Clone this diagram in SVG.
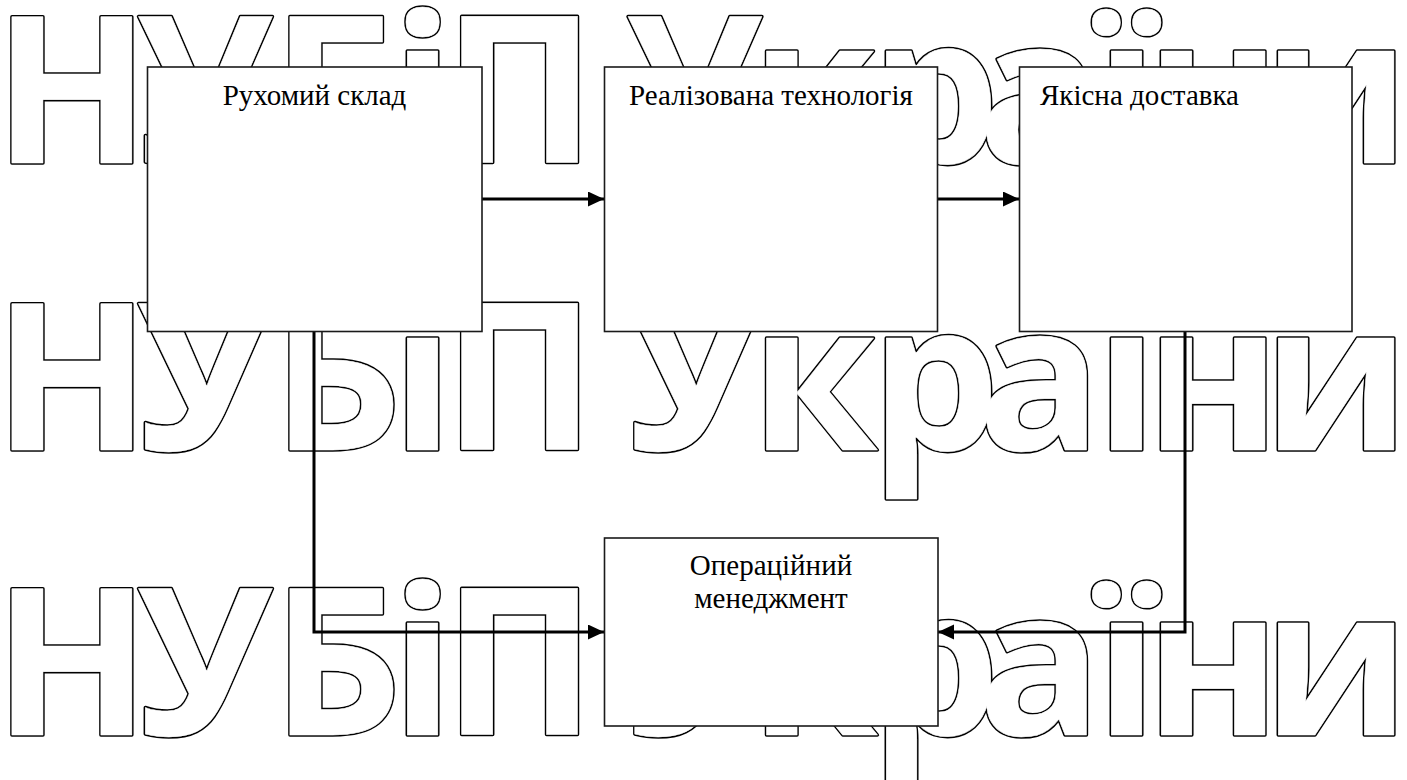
<svg xmlns="http://www.w3.org/2000/svg" width="1407" height="780" viewBox="0 0 1407 780">
<style>
.wm{font-family:"Open Sans","Noto Sans",sans-serif;font-weight:700;font-size:205px;stroke-linejoin:round;text-anchor:middle}
.wk{fill:none;stroke:#000;stroke-width:3.5}
.ww{fill:#fff;stroke:#fff;stroke-width:0.5}
.box{fill:#fff;stroke:#1a1a1a;stroke-width:1.6}
.lbl{font-family:"Liberation Serif","Times New Roman",serif;font-size:29px;fill:#000}
.con{fill:none;stroke:#000;stroke-width:3}
</style>
<defs>
<marker id="arr" markerUnits="userSpaceOnUse" markerWidth="17" markerHeight="16" refX="16" refY="7.5" orient="auto">
<path d="M0,0 L16,7.5 L0,15 z" fill="#000"/>
</marker>
</defs>
<rect width="1407" height="780" fill="#fff"/>
<g id="watermark">
<text class="wm wk" x="72 204.5 337 422.5 519.5 600 694 814 935 1040 1126.5 1213 1336" y="163.3">НУБіП України</text>
<text class="wm ww" x="72 204.5 337 422.5 519.5 600 694 814 935 1040 1126.5 1213 1336" y="163.3">НУБіП України</text>
<text class="wm wk" x="72 204.5 337 422.5 519.5 600 694 814 935 1040 1126.5 1213 1336" y="450">НУБіП України</text>
<text class="wm ww" x="72 204.5 337 422.5 519.5 600 694 814 935 1040 1126.5 1213 1336" y="450">НУБіП України</text>
<text class="wm wk" x="72 204.5 337 422.5 519.5 600 694 814 935 1040 1126.5 1213 1336" y="735">НУБіП України</text>
<text class="wm ww" x="72 204.5 337 422.5 519.5 600 694 814 935 1040 1126.5 1213 1336" y="735">НУБіП України</text>
</g>
<g id="connectors">
<path class="con" d="M482,199 H604" marker-end="url(#arr)"/>
<path class="con" d="M938,199 H1019" marker-end="url(#arr)"/>
<path class="con" d="M314,331 V632 H604" marker-end="url(#arr)"/>
<path class="con" d="M1185,331 V632 H938" marker-end="url(#arr)"/>
</g>
<g id="node-rolling-stock">
<rect class="box" x="147.5" y="67" width="334.5" height="264.5"/>
<text class="lbl" x="314.5" y="105" text-anchor="middle">Рухомий склад</text>
</g>
<g id="node-technology">
<rect class="box" x="604.5" y="67" width="333" height="264.5"/>
<text class="lbl" x="771" y="105" text-anchor="middle">Реалізована технологія</text>
</g>
<g id="node-delivery">
<rect class="box" x="1019.5" y="67" width="332.5" height="264.5"/>
<text class="lbl" x="1040" y="105">Якісна доставка</text>
</g>
<g id="node-management">
<rect class="box" x="604.5" y="538" width="333.5" height="188"/>
<text class="lbl" x="771" y="575" text-anchor="middle">Операційний</text>
<text class="lbl" x="771" y="608" text-anchor="middle">менеджмент</text>
</g>
</svg>
